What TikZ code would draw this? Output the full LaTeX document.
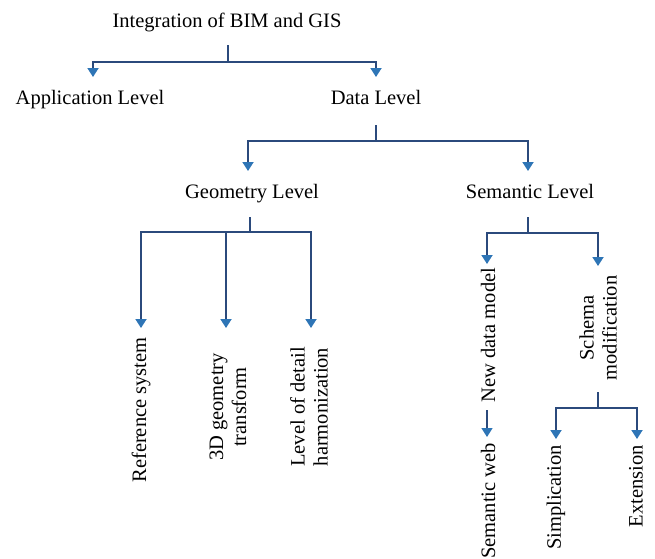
\documentclass[tikz,border=0pt]{standalone}
\usepackage{fontspec}
\setmainfont{Liberation Serif}
\usetikzlibrary{arrows.meta}
\definecolor{lineblue}{HTML}{2B4A7C}
\definecolor{tipblue}{HTML}{2E75B6}
\begin{document}
\begin{tikzpicture}[x=1pt,y=-1pt,
  ln/.style={draw=lineblue,line width=1.8pt},
  arr/.style={ln,-{Triangle[width=11pt,length=9pt,color=tipblue]}},
  lbl/.style={font=\fontsize{20.5}{23}\selectfont,inner sep=0pt,align=center},
  vlbl/.style={lbl,rotate=90}]
\useasboundingbox (0,0) rectangle (655,558);
% text nodes
\node[lbl,anchor=base] (root) at (227,27) {Integration of BIM and GIS};
\node[lbl,anchor=base] (app) at (90,104) {Application Level};
\node[lbl,anchor=base] (data) at (376,104) {Data Level};
\node[lbl,anchor=base] (geo) at (252,198) {Geometry Level};
\node[lbl,anchor=base] (sem) at (530,198) {Semantic Level};
\node[vlbl] (ref) at (141,410) {Reference system};
\node[vlbl] (g3d) at (228,407) {3D geometry\\transform};
\node[vlbl] (lod) at (309,407) {Level of detail\\harmonization};
\node[vlbl] (ndm) at (488,335) {New data model};
\node[vlbl,anchor=east] (sw) at (488,443) {Semantic web};
\node[vlbl] (schema) at (598,328) {Schema\\modification};
\node[vlbl,anchor=east] (simp) at (556,445) {Simplication};
\node[vlbl,anchor=east] (ext) at (636,445) {Extension};
% junction coordinates
\coordinate (s1) at (228,45);  \coordinate (j1) at (228,62);
\coordinate (tApp) at (93,77); \coordinate (tData) at (376,77);
\coordinate (s2) at (376,125); \coordinate (j2) at (376,141);
\coordinate (tGeo) at (248,171); \coordinate (tSem) at (528,171);
\coordinate (s3) at (250,217); \coordinate (j3) at (250,232);
\coordinate (tRef) at (141,328); \coordinate (t3d) at (226,328); \coordinate (tLod) at (311,328);
\coordinate (s4) at (528,217); \coordinate (j4) at (528,233);
\coordinate (tNdm) at (487,264); \coordinate (tSch) at (598,266);
\coordinate (s5) at (598,392); \coordinate (j5) at (598,408);
\coordinate (tSimp) at (556,439); \coordinate (tExt) at (637,439);
\coordinate (n1) at (487,410); \coordinate (tSw) at (487,437);
% connectors
\draw[ln] (s1) -- (j1);
\draw[arr] (j1) -| (tApp);
\draw[arr] (j1) -| (tData);
\draw[ln] (s2) -- (j2);
\draw[arr] (j2) -| (tGeo);
\draw[arr] (j2) -| (tSem);
\draw[ln] (s3) -- (j3);
\draw[arr] (j3) -| (tRef);
\draw[arr] (j3) -| (t3d);
\draw[arr] (j3) -| (tLod);
\draw[ln] (s4) -- (j4);
\draw[arr] (j4) -| (tNdm);
\draw[arr] (j4) -| (tSch);
\draw[ln] (s5) -- (j5);
\draw[arr] (j5) -| (tSimp);
\draw[arr] (j5) -| (tExt);
\draw[arr,line width=1.4pt] (n1) -- (tSw);
\end{tikzpicture}
\end{document}
